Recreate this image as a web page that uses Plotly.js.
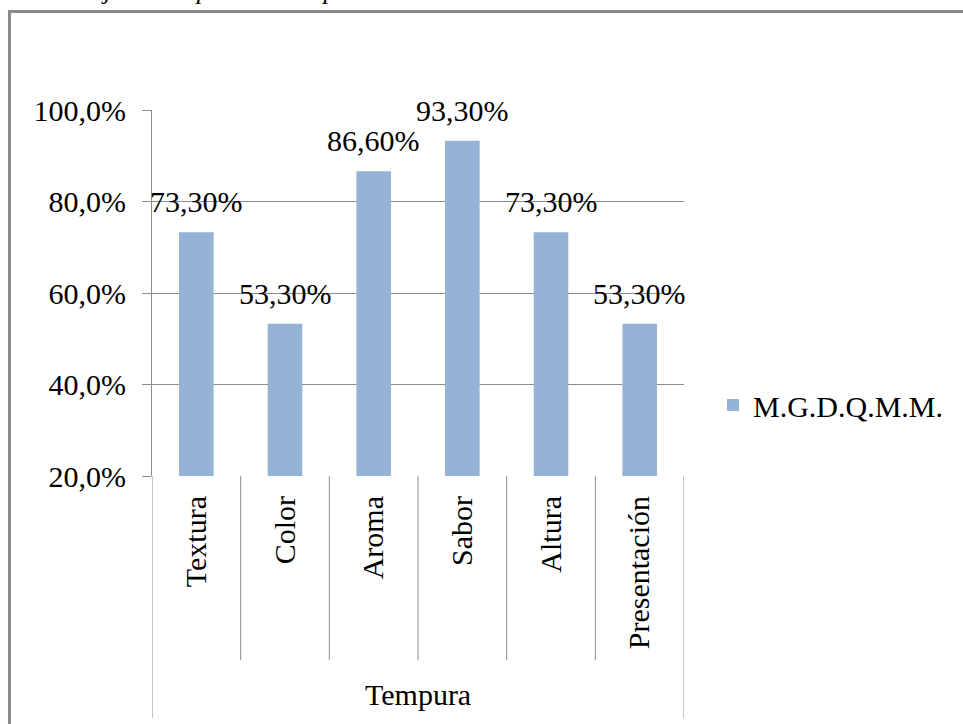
<!DOCTYPE html>
<html>
<head>
<meta charset="utf-8">
<script src="https://cdn.plot.ly/plotly-3.0.1.min.js"></script>
<style>html,body{margin:0;padding:0;background:#fff;overflow:hidden;}#chart{width:963px;height:724px;}</style>
</head>
<body>
<div id="chart"></div>
<script>
const categories = ['Textura', 'Color', 'Aroma', 'Sabor', 'Altura', 'Presentación'];
const values = [73.3, 53.3, 86.6, 93.3, 73.3, 53.3];
const valueLabels = ['73,30%', '53,30%', '86,60%', '93,30%', '73,30%', '53,30%'];
const seriesName = 'M.G.D.Q.M.M.';
const groupName = 'Tempura';
const chartTitle = 'Porcentaje de aceptación Tempura';
const yTicks = [20, 40, 60, 80, 100];
const yTickLabels = ['20,0%', '40,0%', '60,0%', '80,0%', '100,0%'];

const FONT = 'Liberation Serif, Times New Roman, serif';
const GRAY = '#8c8c8c';

const trace = {
  type: 'bar',
  x: categories,
  y: values,
  name: seriesName,
  width: 0.39,
  marker: {color: '#95B3D7'},
  hoverinfo: 'skip'
};

const annotations = categories.map((c, i) => ({
  x: c, y: values[i], xref: 'x', yref: 'y',
  text: valueLabels[i], showarrow: false,
  yanchor: 'bottom', yshift: 12,
  font: {family: FONT, size: 30, color: '#000'}
}));
annotations.push({
  x: 0.5, y: -0.598, xref: 'paper', yref: 'paper',
  text: groupName, showarrow: false, yanchor: 'middle',
  font: {family: FONT, size: 30, color: '#000'}
});
annotations.push({
  x: -0.272, y: 1.281, xref: 'paper', yref: 'paper', xanchor: 'left', yanchor: 'bottom',
  text: '<i>' + chartTitle + '</i>', showarrow: false,
  font: {family: FONT, size: 26, color: '#000'}
});

const shapes = [];
for (let i = 0; i <= categories.length; i++) {
  const outer = (i === 0 || i === categories.length);
  shapes.push({
    type: 'line', xref: 'x', yref: 'paper',
    x0: i - 0.5, x1: i - 0.5, y0: 0, y1: outer ? -0.661 : -0.503,
    line: {color: GRAY, width: 1}
  });
}
shapes.push({
  type: 'rect', xref: 'paper', yref: 'paper',
  x0: -0.2679, x1: 1.6, y0: -0.8, y1: 1.2691,
  line: {color: '#8a8a8a', width: 3}, fillcolor: 'rgba(0,0,0,0)', layer: 'below'
});

const layout = {
  width: 963, height: 724,
  margin: {l: 152, r: 279, t: 110, b: 248, pad: 0},
  paper_bgcolor: '#fff', plot_bgcolor: '#fff',
  font: {family: FONT, size: 30, color: '#000'},
  showlegend: true,
  legend: {
    x: 1.0545, xanchor: 'left', y: 0.194, yanchor: 'middle',
    font: {family: FONT, size: 30, color: '#000'},
    bgcolor: 'rgba(0,0,0,0)', borderwidth: 0
  },
  xaxis: {
    type: 'category', range: [-0.5, categories.length - 0.5],
    tickangle: -90, ticks: '', showgrid: false, zeroline: false, showline: false,
    ticklabelstandoff: 13,
    tickfont: {family: FONT, size: 30, color: '#000'},
    fixedrange: true
  },
  yaxis: {
    range: [20, 100], tickvals: yTicks, ticktext: yTickLabels,
    showgrid: true, gridcolor: GRAY, gridwidth: 1,
    ticks: 'outside', ticklen: 9, tickcolor: GRAY, tickwidth: 1,
    showline: true, linecolor: GRAY, linewidth: 1,
    zeroline: false, ticklabelstandoff: 10,
    tickfont: {family: FONT, size: 30, color: '#000'},
    fixedrange: true
  },
  annotations: annotations,
  shapes: shapes
};

Plotly.newPlot('chart', [trace], layout, {displayModeBar: false, staticPlot: true});
</script>
</body>
</html>
